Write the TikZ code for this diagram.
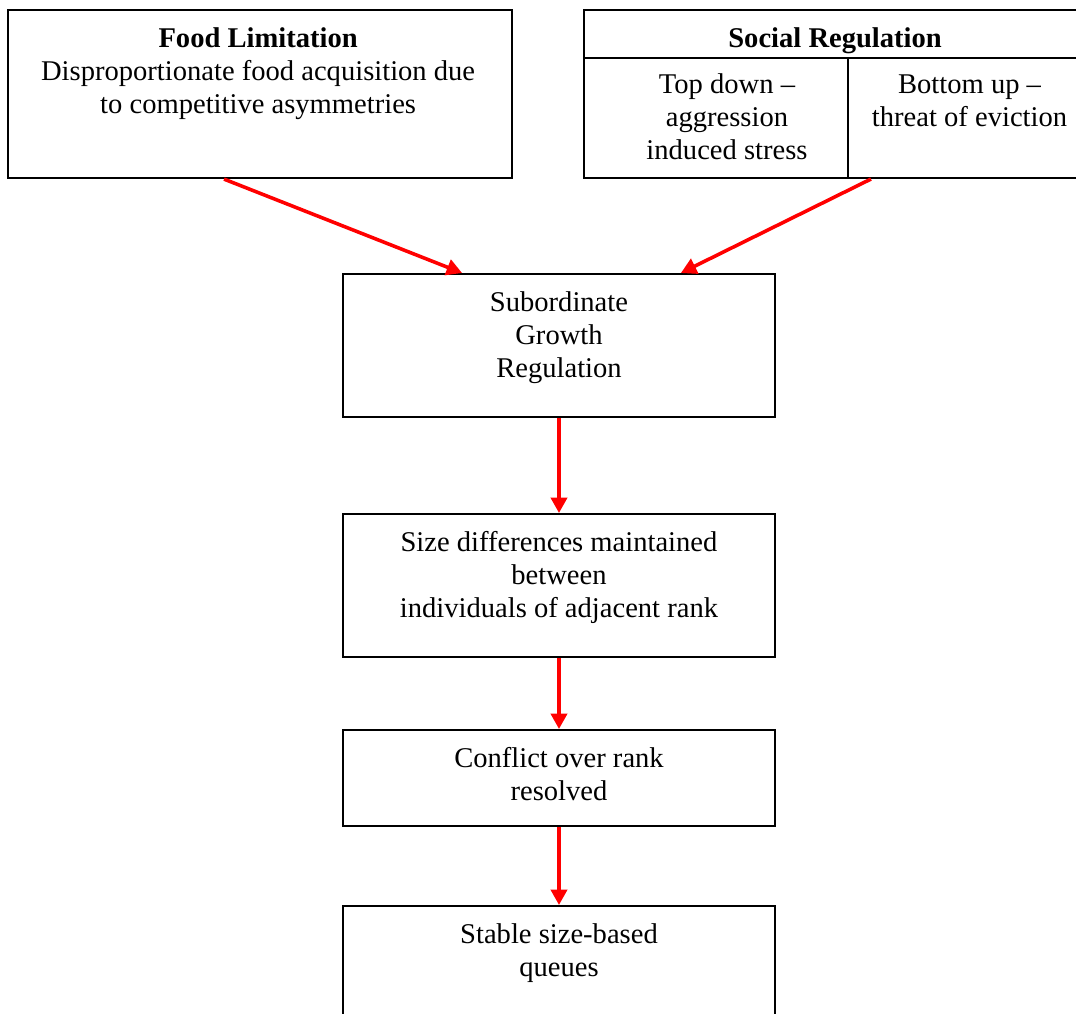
\documentclass[tikz,border=0pt]{standalone}
\usepackage{fontspec}
\setmainfont{Liberation Serif}
\usepackage{tikz}
\usetikzlibrary{positioning, arrows.meta}

\tikzset{
	box/.style={draw, line width=0.85pt, inner sep=0pt},
	txt/.style={align=center, inner sep=0pt, font=\fontsize{12}{13.86}\selectfont},
	flow/.style={draw=red, line width=1.5pt, -{Triangle[length=6.5pt, width=6.8pt]}}
}

\begin{document}
\begin{tikzpicture}[x=0.42pt, y=-0.42pt]
			\useasboundingbox (0,0) rectangle (1076,1013);
			\clip (0,0) rectangle (1076,1013);
			
			% top row
			\node [box, anchor=north west, minimum width=211.7pt, minimum height=70.6pt] (food) at (7,9) {};
			\node [box, anchor=north west, minimum width=212.9pt, minimum height=20.2pt] (socH) at (583,9) {};
			\node [box, anchor=north west, minimum width=110.9pt, minimum height=50.4pt] (topdown) at (583,57) {};
			\node [box, anchor=north west, minimum width=102.1pt, minimum height=50.4pt] (bottomup) at (847,57) {};
			
			\node [txt, below=6.3pt of food.north, xshift=-0.8pt] (foodT) {\strut\textbf{Food Limitation}\\Disproportionate food acquisition due\\to competitive asymmetries};
			\node [txt, below=6.3pt of socH.north, xshift=-1pt] (socT) {\strut\textbf{Social Regulation}};
			\node [txt, below=5.5pt of topdown.north, xshift=4.6pt] (topdownT) {\strut Top down \textendash\\aggression\\induced stress};
			\node [txt, below=5.5pt of bottomup.north] (bottomupT) {\strut Bottom up \textendash\\threat of eviction};
			
			% chain down the middle
			\node [box, anchor=north, minimum width=181.4pt, minimum height=60.1pt] (growth) at (559,273) {};
			\node [box, anchor=north, minimum width=181.4pt, minimum height=60.1pt] (sizediff) at (559,513) {};
			\node [box, anchor=north, minimum width=181.4pt, minimum height=40.3pt] (conflict) at (559,729) {};
			\node [box, anchor=north, minimum width=181.4pt, minimum height=60.1pt] (queues) at (559,905) {};
			
			\node [txt, below=6.3pt of growth.north] (growthT) {\strut Subordinate\\Growth\\Regulation};
			\node [txt, below=6.3pt of sizediff.north] (sizediffT) {\strut Size differences maintained\\between\\individuals of adjacent rank};
			\node [txt, below=6.3pt of conflict.north] (conflictT) {\strut Conflict over rank\\resolved};
			\node [txt, below=6.3pt of queues.north] (queuesT) {\strut Stable size-based\\queues};
			
			% arrows
			\draw [flow] ([xshift=-15.1pt]food.south) -- ([xshift=-40.7pt]growth.north);
			\draw [flow] ([xshift=-41.4pt]bottomup.south) -- ([xshift=51.2pt]growth.north);
			\draw [flow] (growth) -- (sizediff);
			\draw [flow] (sizediff) -- (conflict);
			\draw [flow] (conflict) -- (queues);
\end{tikzpicture}
\end{document}
